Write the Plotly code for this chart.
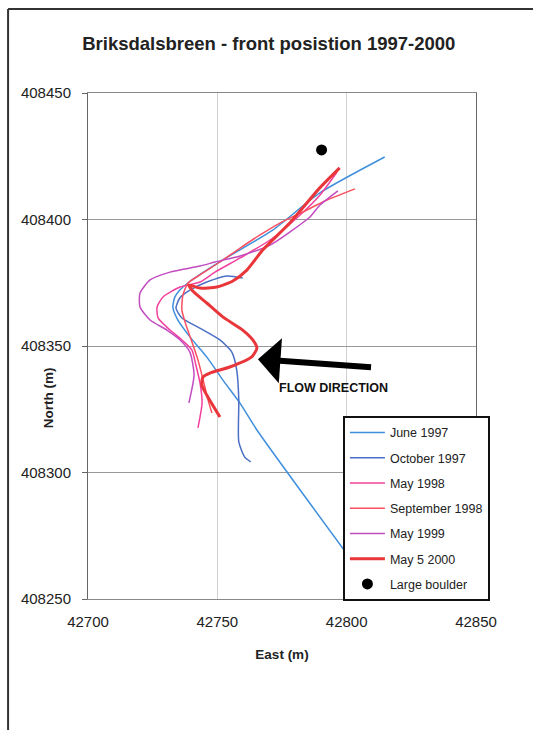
import plotly.graph_objects as go

# ---- data (East, North in metres) ----
june97_e = [42814.7, 42789.6, 42771.4, 42752.1, 42738.6, 42735.5, 42733.6, 42732.8, 42734.7, 42739.4, 42745.9, 42752.1, 42758.7, 42765.3, 42800.4]
june97_n = [408424.7, 408410.5, 408395.8, 408384.0, 408374.9, 408372.1, 408369.4, 408365.4, 408360.3, 408353.6, 408345.7, 408336.6, 408327.5, 408316.8, 408267.4]

oct97_e = [42759.8, 42753.7, 42745.9, 42739.4, 42735.5, 42734.0, 42736.3, 42743.2, 42751.0, 42755.6, 42757.5, 42758.3, 42758.3, 42760.6, 42762.9]
oct97_n = [408376.9, 408377.7, 408375.3, 408372.1, 408369.0, 408365.0, 408361.1, 408357.1, 408352.4, 408347.6, 408340.5, 408328.7, 408312.1, 408306.1, 408304.2]

may98_e = [42796.3, 42789.7, 42782.0, 42770.4, 42758.8, 42749.1, 42743.3, 42735.6, 42729.0, 42726.7, 42727.1, 42731.7, 42736.3, 42740.2, 42741.7, 42743.3, 42744.1, 42742.5]
may98_n = [408418.8, 408409.7, 408401.8, 408391.9, 408384.8, 408379.2, 408375.3, 408373.3, 408369.4, 408365.4, 408361.1, 408356.3, 408352.4, 408348.4, 408342.5, 408335.4, 408327.5, 408317.6]

sep98_e = [42803.2, 42792.4, 42783.1, 42774.2, 42766.5, 42758.8, 42751.0, 42743.3, 42738.7, 42736.7, 42736.3, 42737.9, 42740.2, 42742.5, 42744.5, 42746.4, 42747.9]
sep98_n = [408412.1, 408407.7, 408403.0, 408398.6, 408393.9, 408388.7, 408383.2, 408378.1, 408374.9, 408370.2, 408364.2, 408358.3, 408351.6, 408344.5, 408336.6, 408328.7, 408323.5]

may99_e = [42796.6, 42789.7, 42785.8, 42778.1, 42770.4, 42758.8, 42749.1, 42743.3, 42731.7, 42724.0, 42720.1, 42720.1, 42724.0, 42730.5, 42735.6, 42739.4, 42741.0, 42739.0]
may99_n = [408411.3, 408405.7, 408401.0, 408395.1, 408389.9, 408385.6, 408383.2, 408381.6, 408379.2, 408376.1, 408370.9, 408365.4, 408360.3, 408356.3, 408352.4, 408347.6, 408338.5, 408327.5]

may00_e = [42797.3, 42789.6, 42778.0, 42767.6, 42761.4, 42756.0, 42749.8, 42743.2, 42739.0, 42740.5, 42745.9, 42752.1, 42759.8, 42763.7, 42765.3, 42763.3, 42754.8, 42747.1, 42744.4, 42744.0, 42745.9, 42751.0]
may00_n = [408420.4, 408412.5, 408398.6, 408388.0, 408380.0, 408375.7, 408373.3, 408372.9, 408374.1, 408371.7, 408367.0, 408361.5, 408356.3, 408352.4, 408349.2, 408345.7, 408341.7, 408339.3, 408337.7, 408334.6, 408330.6, 408321.9]

boulder_e = [42790.3]
boulder_n = [408427.5]

arrow_tip = (42765.7, 408344.8)
arrow_tail = (42810.0, 408341.6)
label_pos = (42773.1, 408333.4)

x_ticks = [42700, 42750, 42800, 42850]
y_ticks = [408250, 408300, 408350, 408400, 408450]

series = [
    ("June 1997", june97_e, june97_n, "#3f8fdc", 1.5),
    ("October 1997", oct97_e, oct97_n, "#4a6fc4", 1.5),
    ("May 1998", may98_e, may98_n, "#f2409c", 1.5),
    ("September 1998", sep98_e, sep98_n, "#fb4f5f", 1.5),
    ("May 1999", may99_e, may99_n, "#c24cbf", 1.5),
    ("May 5 2000", may00_e, may00_n, "#e8363a", 3),
]

fig = go.Figure()
for i, (name, xs, ys, col, w) in enumerate(series):
    fig.add_trace(go.Scatter(
        x=xs, y=ys, mode="lines", name=name, legendgroup=str(i),
        line=dict(color=col, width=w, shape="spline", smoothing=0.6),
    ))
fig.add_trace(go.Scatter(
    x=boulder_e, y=boulder_n, mode="markers", name="Large boulder", legendgroup="b",
    marker=dict(color="black", size=11),
))

fig.add_annotation(
    x=arrow_tip[0], y=arrow_tip[1], ax=arrow_tail[0], ay=arrow_tail[1],
    xref="x", yref="y", axref="x", ayref="y", text="", showarrow=True,
    arrowhead=1, arrowsize=1.25, arrowwidth=6, arrowcolor="black",
)
fig.add_annotation(
    x=label_pos[0], y=label_pos[1], xref="x", yref="y", text="FLOW DIRECTION",
    showarrow=False, xanchor="left", yanchor="middle",
    font=dict(family="Arial, Liberation Sans", size=12.5, color="#111", weight="bold"),
)
# y axis title (placed as in the original, below the middle tick label)
fig.add_annotation(
    x=-0.103, y=0.397, xref="paper", yref="paper", text="<b>North (m)</b>",
    showarrow=False, textangle=-90, xanchor="center", yanchor="middle",
    font=dict(family="Arial, Liberation Sans", size=13.5, color="#222"),
)

# outer frame (left and top edges visible)
fig.add_shape(type="line", xref="paper", yref="paper",
              x0=-0.206, x1=-0.206, y0=-0.5, y1=1.166,
              line=dict(color="#333", width=2), layer="below")
fig.add_shape(type="line", xref="paper", yref="paper",
              x0=-0.206, x1=1.5, y0=1.166, y1=1.166,
              line=dict(color="#333", width=2), layer="below")

fig.update_layout(
    width=533, height=730,
    margin=dict(l=88, r=57, t=93, b=131),
    paper_bgcolor="white", plot_bgcolor="white",
    font=dict(family="Arial, Liberation Sans", color="#222"),
    title=dict(text="<b>Briksdalsbreen - front posistion 1997-2000</b>",
               x=0.466, xref="paper", xanchor="center", y=1 - 44/730, yanchor="middle",
               font=dict(size=18.5, color="#222")),
    showlegend=True,
    legend=dict(x=0.657, y=0.362, xanchor="left", yanchor="top",
                bgcolor="white", bordercolor="#111", borderwidth=2,
                font=dict(size=12.5, color="#222"), tracegroupgap=6,
                itemwidth=35),
    xaxis=dict(range=[42700, 42850], tickvals=x_ticks, tickformat="d", ticks="",
               showline=True, linecolor="#888", mirror=True, showgrid=True,
               gridcolor="#d0d0d0", gridwidth=1, zeroline=False,
               tickfont=dict(size=15, color="#222"), ticklabelstandoff=9,
               title=dict(text="<b>East (m)</b>", font=dict(size=13.5), standoff=20)),
    yaxis=dict(range=[408250, 408450], tickvals=y_ticks, ticks="outside", ticklen=5,
               tickcolor="#666", showline=True, linecolor="#666", mirror=True,
               showgrid=True, gridcolor="#999", gridwidth=1, zeroline=False,
               tickfont=dict(size=15, color="#222"), tickformat="d",
               ticklabelstandoff=8),
)

fig.write_html("out.html")
